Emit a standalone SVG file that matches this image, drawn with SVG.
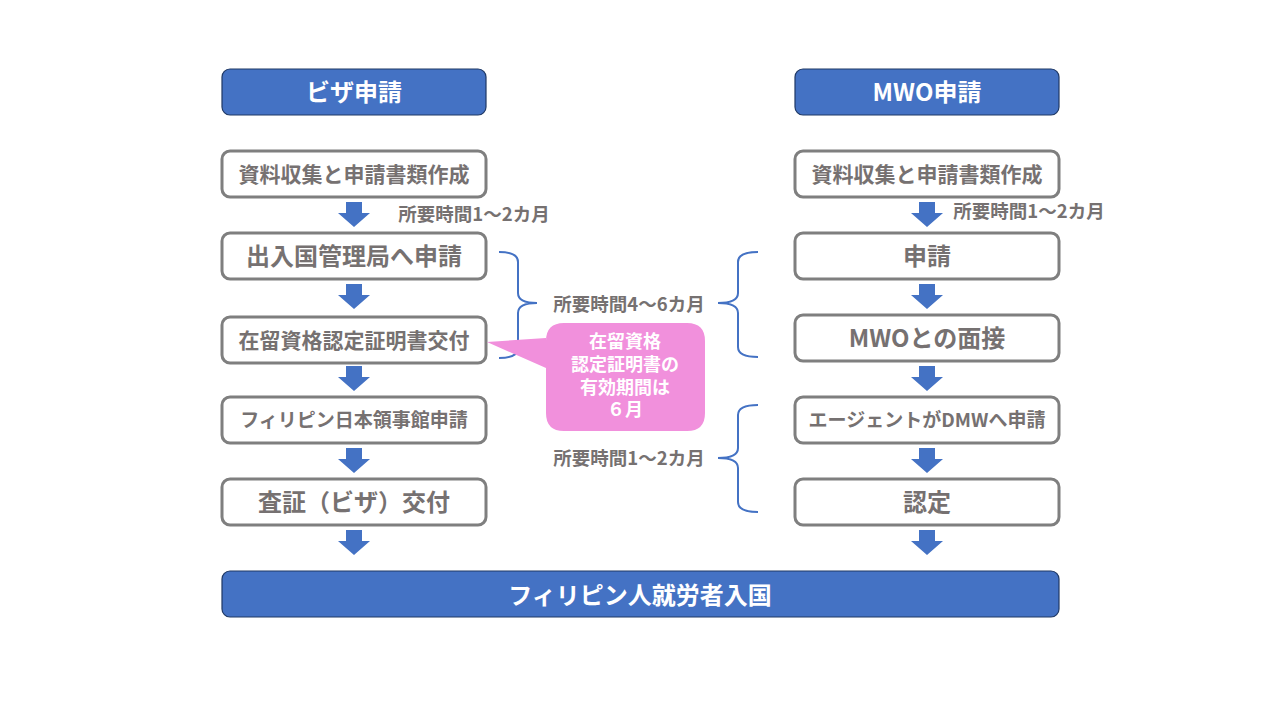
<svg xmlns="http://www.w3.org/2000/svg" width="1280" height="720" viewBox="0 0 1280 720">
<style>
.hdr{fill:#4472C4;stroke:#1F3864;stroke-width:1.2}
.box{fill:#FFFFFF;stroke:#7F7F7F;stroke-width:3}
.t{font-family:"Noto Sans CJK JP","Noto Sans",sans-serif;font-weight:bold;text-anchor:middle;dominant-baseline:central}
.w{fill:#FFFFFF}
.g{fill:#767171}
.lbl{fill:#767171;font-size:18.5px}
.arr{fill:#4472C4}
.br{fill:none;stroke:#4472C4;stroke-width:2}
</style>
<defs>
<path id="ar" d="M-8,0 H8 V11 H16 L0,25 L-16,11 H-8 Z"/>
</defs>
<rect width="1280" height="720" fill="#FFFFFF"/>

<g id="hdr-visa"><rect class="hdr" x="222" y="69" width="264" height="46" rx="8"/><text class="t w" x="354" y="90" font-size="24">ビザ申請</text></g>
<g id="hdr-mwo"><rect class="hdr" x="795" y="69" width="264" height="46" rx="8"/><text class="t w" x="927" y="90" font-size="24">MWO申請</text></g>

<g id="l1"><rect class="box" x="222" y="151" width="264" height="46" rx="8"/><text class="t g" x="354" y="172.5" font-size="21">資料収集と申請書類作成</text></g>
<g id="l2"><rect class="box" x="222" y="233" width="264" height="46" rx="8"/><text class="t g" x="354" y="254.5" font-size="24">出入国管理局へ申請</text></g>
<g id="l3"><rect class="box" x="222" y="317" width="264" height="46" rx="8"/><text class="t g" x="354" y="338.5" font-size="21">在留資格認定証明書交付</text></g>
<g id="l4"><rect class="box" x="222" y="397" width="264" height="46" rx="8"/><text class="t g" x="354" y="418.5" font-size="19">フィリピン日本領事館申請</text></g>
<g id="l5"><rect class="box" x="222" y="479" width="264" height="46" rx="8"/><text class="t g" x="354" y="500.5" font-size="24">査証（ビザ）交付</text></g>

<g id="r1"><rect class="box" x="795" y="151" width="264" height="46" rx="8"/><text class="t g" x="927" y="172.5" font-size="21">資料収集と申請書類作成</text></g>
<g id="r2"><rect class="box" x="795" y="233" width="264" height="46" rx="8"/><text class="t g" x="927" y="254.5" font-size="24">申請</text></g>
<g id="r3"><rect class="box" x="795" y="315" width="264" height="46" rx="8"/><text class="t g" x="927" y="336.5" font-size="24">MWOとの面接</text></g>
<g id="r4"><rect class="box" x="795" y="397" width="264" height="46" rx="8"/><text class="t g" x="927" y="418.5" font-size="19">エージェントがDMWへ申請</text></g>
<g id="r5"><rect class="box" x="795" y="479" width="264" height="46" rx="8"/><text class="t g" x="927" y="500.5" font-size="24">認定</text></g>

<g id="entry"><rect class="hdr" x="222" y="571" width="837" height="46" rx="8"/><text class="t w" x="640" y="593" font-size="24">フィリピン人就労者入国</text></g>

<g id="connectors">
<use href="#ar" class="arr" x="354" y="202"/>
<use href="#ar" class="arr" x="354" y="284"/>
<use href="#ar" class="arr" x="354" y="366"/>
<use href="#ar" class="arr" x="354" y="448"/>
<use href="#ar" class="arr" x="354" y="530"/>
<use href="#ar" class="arr" x="927" y="202"/>
<use href="#ar" class="arr" x="927" y="284"/>
<use href="#ar" class="arr" x="927" y="366"/>
<use href="#ar" class="arr" x="927" y="448"/>
<use href="#ar" class="arr" x="927" y="530"/>
<path class="br" d="M499,252 Q518,252 518,262 V293 Q518,303 537,303 Q518,303 518,313 V348 Q518,358 499,358"/>
<path class="br" d="M758,252 Q738,252 738,262 V293 Q738,303 718,303 Q738,303 738,313 V347 Q738,357 758,357"/>
<path class="br" d="M758,405 Q738,405 738,415 V448 Q738,458 718,458 Q738,458 738,468 V502 Q738,512 758,512"/>
</g>

<g id="labels">
<text class="t lbl" x="474" y="213">所要時間1～2カ月</text>
<text class="t lbl" x="1029" y="210">所要時間1～2カ月</text>
<text class="t lbl" x="629" y="303">所要時間4～6カ月</text>
<text class="t lbl" x="629" y="457">所要時間1～2カ月</text>
</g>

<g id="callout">
<path d="M564,323 H687 Q705,323 705,341 V413 Q705,431 687,431 H564 Q546,431 546,413 V368 L487,342 L546,338 V341 Q546,323 564,323 Z" fill="#F190DC"/>
<text class="t w" font-size="18"><tspan x="625" y="340">在留資格</tspan><tspan x="625" y="363">認定証明書の</tspan><tspan x="625" y="385.5">有効期間は</tspan><tspan x="625" y="408">６月</tspan></text>
</g>
</svg>
